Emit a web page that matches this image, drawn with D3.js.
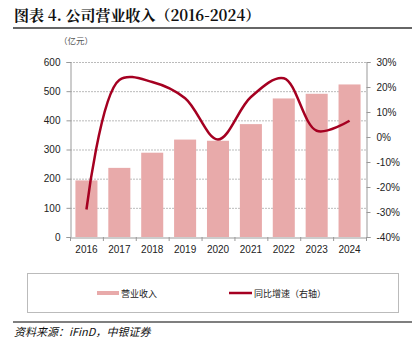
<!DOCTYPE html>
<html><head><meta charset="utf-8">
<script src="https://cdn.jsdelivr.net/npm/d3@7"></script>
<style>body{margin:0;background:#fff;}svg{display:block;}</style>
</head><body>
<script>
const years = ["2016","2017","2018","2019","2020","2021","2022","2023","2024"];
const revenue = [194, 237, 289, 334, 330, 387, 475, 491, 523];
const growth = [-29, 22.8, 22, 15.5, -1, 16, 23.5, 2.5, 6.5];
const leftTicks = [0,100,200,300,400,500,600];
const rightTicks = [-40,-30,-20,-10,0,10,20,30];

const W=419,H=345;
const svg=d3.select("body").append("svg").attr("width",W).attr("height",H);
const m={l:70,r:366,t:62,b:237};
const x=d3.scaleBand().domain(years).range([m.l,m.r]).paddingInner(0.33).paddingOuter(0.165);
const y=d3.scaleLinear().domain([0,600]).range([m.b,m.t]);
const y2=d3.scaleLinear().domain([-40,30]).range([m.b,m.t]);
const font='"Liberation Sans", Arial, sans-serif';
const cjk='"Noto Sans CJK SC", sans-serif';

// title
svg.append("text").attr("x",14).attr("y",21).attr("font-family",'"Noto Serif CJK SC","Noto Sans CJK SC",serif')
  .attr("font-weight","bold").attr("font-size",15).attr("fill","#111").text("图表 4. 公司营业收入（2016-2024）");
svg.append("line").attr("x1",13).attr("x2",412).attr("y1",28).attr("y2",28).attr("stroke","#333").attr("stroke-width",1.5);
svg.append("text").attr("x",59).attr("y",44).attr("font-family",cjk).attr("font-size",8.5).attr("fill","#555").text("（亿元）");

// grid
svg.append("g").selectAll("line").data(leftTicks.slice(1)).join("line")
  .attr("x1",m.l).attr("x2",m.r).attr("y1",d=>y(d)+0.5).attr("y2",d=>y(d)+0.5)
  .attr("stroke","#aaa").attr("stroke-width",0.8).attr("stroke-dasharray","2,1");

// bars
svg.append("g").selectAll("rect").data(revenue).join("rect")
  .attr("x",(d,i)=>x(years[i])).attr("width",x.bandwidth())
  .attr("y",d=>y(d)).attr("height",d=>m.b-y(d)).attr("fill","#e8aaaa");

// axes
const ax=d3.axisLeft(y).tickValues(leftTicks).tickSize(4).tickPadding(6);
const gl=svg.append("g").attr("transform",`translate(${m.l+0.5},0)`).call(ax);
const ar=d3.axisRight(y2).tickValues(rightTicks).tickSize(4).tickPadding(6).tickFormat(d=>d+"%");
const gr=svg.append("g").attr("transform",`translate(${m.r+0.5},0)`).call(ar);
const xb=d3.axisBottom(x).tickSize(0).tickPadding(8);
const gb=svg.append("g").attr("transform",`translate(0,${m.b+0.5})`).call(xb);
// category separator ticks
const seps=years.map((d,i)=>x(d)-x.step()*x.paddingInner()/2).concat([m.r]);
svg.append("g").selectAll("line").data(seps).join("line")
  .attr("x1",d=>d+0.5).attr("x2",d=>d+0.5).attr("y1",m.b).attr("y2",m.b+4).attr("stroke","#999");
[gl,gr,gb].forEach(g=>{
  g.selectAll(".domain").attr("stroke","#999");
  g.selectAll(".tick line").attr("stroke","#999");
  g.selectAll("text").attr("font-family",font).attr("font-size",10).attr("fill","#222");
});

// line
const line=d3.line().x((d,i)=>x(years[i])+x.bandwidth()/2).y(d=>y2(d)).curve(d3.curveCatmullRom.alpha(0.5));
svg.append("path").datum(growth).attr("d",line).attr("fill","none").attr("stroke","#a50021").attr("stroke-width",2.5);

// legend
svg.append("rect").attr("x",27.5).attr("y",273.5).attr("width",371).attr("height",39).attr("fill","none").attr("stroke","#bbb");
svg.append("rect").attr("x",97).attr("y",291).attr("width",22).attr("height",4).attr("fill","#e8aaaa");
svg.append("text").attr("x",121).attr("y",296.5).attr("font-family",cjk).attr("font-size",9).attr("fill","#222").text("营业收入");
svg.append("line").attr("x1",229).attr("x2",252).attr("y1",293).attr("y2",293).attr("stroke","#a50021").attr("stroke-width",2.5);
svg.append("text").attr("x",254).attr("y",296.5).attr("font-family",cjk).attr("font-size",9).attr("fill","#222").text("同比增速（右轴）");

// footer
svg.append("line").attr("x1",13).attr("x2",412).attr("y1",322).attr("y2",322).attr("stroke","#555").attr("stroke-width",1.5);
svg.append("text").attr("x",14).attr("y",336).attr("font-family",cjk).attr("font-style","italic").attr("font-size",11).attr("fill","#111").text("资料来源：iFinD，中银证券");
</script>
</body></html>
